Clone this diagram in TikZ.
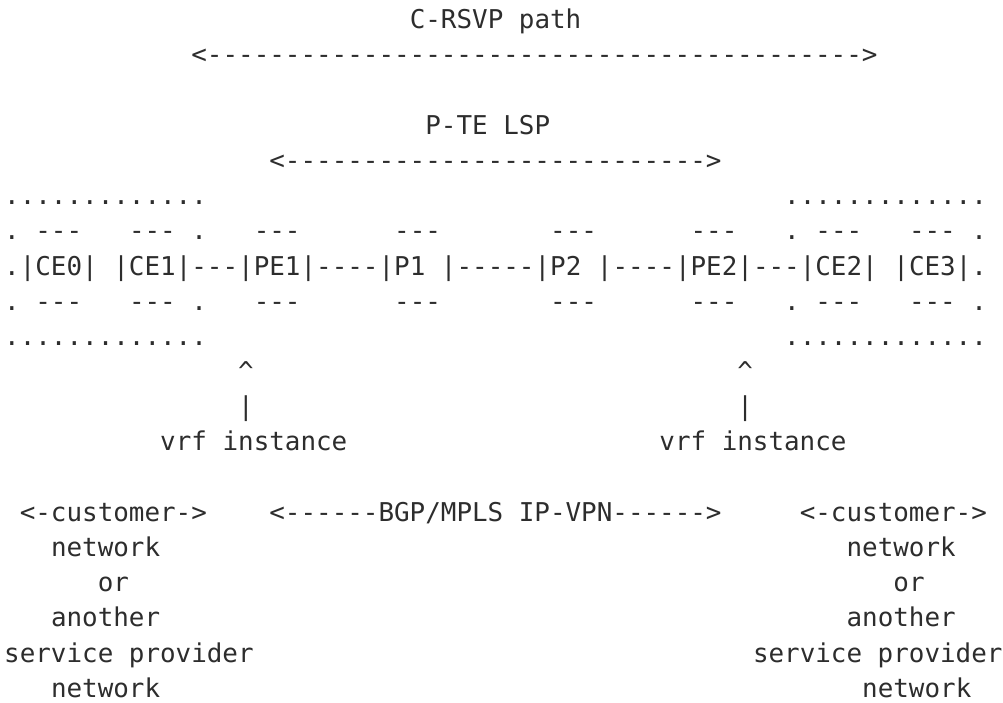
\documentclass[tikz,border=0pt]{standalone}
\usepackage{fontspec}
\setmonofont{DejaVu Sans Mono}
\definecolor{artgray}{RGB}{45,45,45}
\newcommand\artcell[4]{\node[txt] (#1) at ({4.2+15.6*(#2)},{-(28.8+35.18*(#3))}) {#4};}
\begin{document}
\begin{tikzpicture}[x=1pt,y=1pt,
  txt/.style={font=\ttfamily\fontsize{25.9}{30}\selectfont, text=artgray,
              anchor=base west, inner sep=0pt, outer sep=0pt}]
\useasboundingbox[fill=white] (0,0) rectangle (1003,-703);
% top labels and arrows
\artcell{rsvp}{26}{0}{C-RSVP path}
\artcell{rsvparrow}{12}{1}{<------------------------------------------>}
\artcell{ptelsp}{27}{3}{P-TE LSP}
\artcell{ptearrow}{17}{4}{<--------------------------->}
% customer site boxes (dotted)
\artcell{ltop}{0}{5}{.............}
\artcell{rtop}{50}{5}{.............}
\artcell{lbot}{0}{9}{.............}
\artcell{rbot}{50}{9}{.............}
% row above devices
\artcell{a0}{0}{6}{.}
\artcell{a1}{2}{6}{---}
\artcell{a2}{8}{6}{---}
\artcell{a3}{12}{6}{.}
\artcell{a4}{16}{6}{---}
\artcell{a5}{25}{6}{---}
\artcell{a6}{35}{6}{---}
\artcell{a7}{44}{6}{---}
\artcell{a8}{50}{6}{.}
\artcell{a9}{52}{6}{---}
\artcell{a10}{58}{6}{---}
\artcell{a11}{62}{6}{.}
% device row
\artcell{ldot}{0}{7}{.}
\artcell{ce0}{1}{7}{|CE0|}
\artcell{ce1}{7}{7}{|CE1|}
\artcell{l1}{12}{7}{---}
\artcell{pe1}{15}{7}{|PE1|}
\artcell{l2}{20}{7}{----}
\artcell{p1}{24}{7}{|P1~|}
\artcell{l3}{29}{7}{-----}
\artcell{p2}{34}{7}{|P2~|}
\artcell{l4}{39}{7}{----}
\artcell{pe2}{43}{7}{|PE2|}
\artcell{l5}{48}{7}{---}
\artcell{ce2}{51}{7}{|CE2|}
\artcell{ce3}{57}{7}{|CE3|}
\artcell{rdot}{62}{7}{.}
% row below devices
\artcell{b0}{0}{8}{.}
\artcell{b1}{2}{8}{---}
\artcell{b2}{8}{8}{---}
\artcell{b3}{12}{8}{.}
\artcell{b4}{16}{8}{---}
\artcell{b5}{25}{8}{---}
\artcell{b6}{35}{8}{---}
\artcell{b7}{44}{8}{---}
\artcell{b8}{50}{8}{.}
\artcell{b9}{52}{8}{---}
\artcell{b10}{58}{8}{---}
\artcell{b11}{62}{8}{.}
% vrf pointers
\artcell{lcaret}{15}{10}{\textasciicircum}
\artcell{rcaret}{47}{10}{\textasciicircum}
\artcell{lbar}{15}{11}{|}
\artcell{rbar}{47}{11}{|}
\artcell{lvrf}{10}{12}{vrf instance}
\artcell{rvrf}{42}{12}{vrf instance}
% bottom legends
\artcell{lcust}{1}{14}{<-customer->}
\artcell{bgp}{17}{14}{<------BGP/MPLS IP-VPN------>}
\artcell{rcust}{51}{14}{<-customer->}
\artcell{lnet}{3}{15}{network}
\artcell{rnet}{54}{15}{network}
\artcell{lor}{6}{16}{or}
\artcell{ror}{57}{16}{or}
\artcell{lanother}{3}{17}{another}
\artcell{ranother}{54}{17}{another}
\artcell{lsp}{0}{18}{service provider}
\artcell{rsp}{48}{18}{service provider}
\artcell{lnet2}{3}{19}{network}
\artcell{rnet2}{55}{19}{network}
\end{tikzpicture}
\end{document}
